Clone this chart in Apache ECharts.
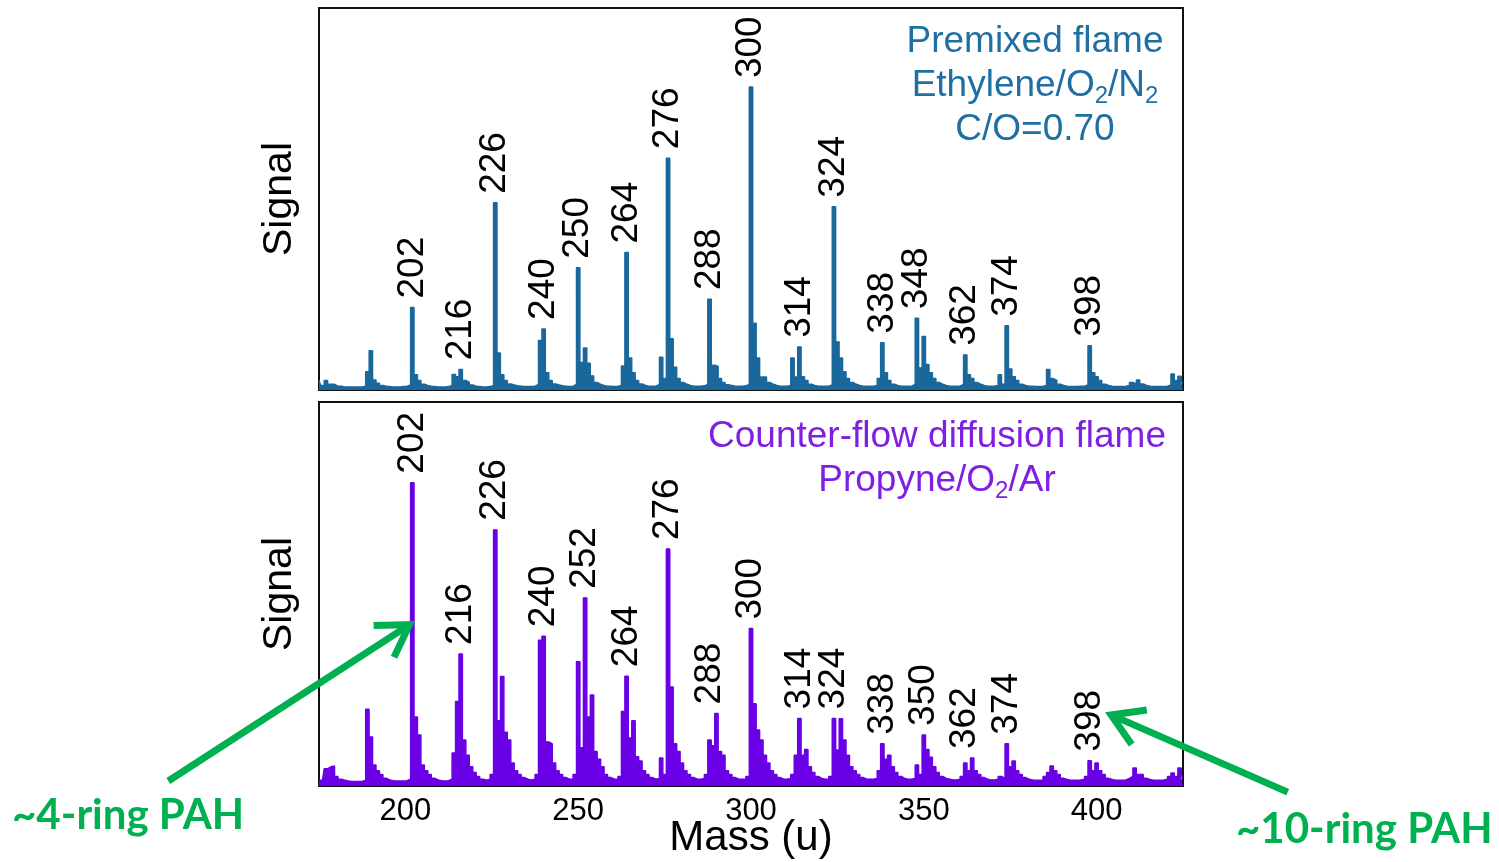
<!DOCTYPE html>
<html><head><meta charset="utf-8">
<script src="https://cdn.jsdelivr.net/npm/echarts@6/dist/echarts.min.js"></script>
<style>html,body{margin:0;padding:0;background:#fff}#c{width:1499px;height:862px}</style>
</head><body><div id="c"></div>
<script>
// ---------------- DATA ----------------
const massStart = 175; // first mass (u); one value per integer mass up to 425
const premixedSignal = [
  2.5,1.2,2.5,1.5,1.5,1.0,1.0,0.8,0.8,0.8,
  0.8,0.8,0.8,1.0,4.8,10.3,2.6,1.8,1.2,1.0,
  0.9,0.8,0.8,0.8,0.9,1.0,1.3,21.6,4.0,2.5,
  1.5,1.2,1.0,0.9,0.8,0.8,0.8,0.9,1.2,4.1,
  3.5,5.4,2.5,2.0,1.3,1.0,0.9,0.8,0.8,0.9,
  1.2,49.0,9.7,4.0,2.5,1.6,1.3,1.1,1.0,0.9,
  0.9,0.9,1.0,1.5,13.0,16.0,4.5,2.5,1.6,1.3,
  1.1,1.0,0.9,1.0,1.5,32.0,7.2,11.0,7.0,3.7,
  2.0,1.5,1.2,1.0,1.0,0.9,1.0,1.2,6.3,36.0,
  8.4,4.5,2.5,1.6,1.2,1.0,1.0,1.0,1.5,8.6,
  3.0,60.7,13.4,6.0,3.0,2.0,1.5,1.2,1.0,1.0,
  1.0,1.1,1.5,23.8,6.5,6.2,3.0,2.0,1.4,1.2,
  1.0,1.0,1.0,1.1,1.5,79.3,17.5,8.4,3.4,3.4,
  2.0,1.5,1.2,1.0,1.0,1.0,1.2,8.4,3.4,11.3,
  3.5,2.5,1.5,1.2,1.0,1.0,1.0,1.0,1.3,48.0,
  12.6,8.4,4.8,3.0,2.0,1.5,1.2,1.0,1.0,1.0,
  1.0,1.2,3.0,12.4,4.5,2.5,1.5,1.2,1.0,1.0,
  1.0,1.0,1.5,18.8,5.8,14.0,6.7,4.5,3.0,2.0,
  1.5,1.2,1.0,1.0,1.0,1.0,1.5,9.2,4.0,3.0,
  2.0,1.5,1.2,1.0,1.0,1.0,1.2,4.0,1.5,16.8,
  5.5,3.5,2.5,1.5,1.2,1.0,1.0,0.9,0.9,1.0,
  1.2,5.4,3.0,2.5,1.5,1.2,1.0,0.9,0.9,0.9,
  1.0,1.0,1.3,11.6,4.5,3.5,2.5,1.5,1.2,1.0,
  0.9,0.9,0.9,1.0,1.2,2.0,1.6,2.6,1.6,1.2,
  1.0,0.9,0.9,0.9,0.9,1.0,1.3,4.2,2.5,3.6,
  2.0
];
const counterflowSignal = [
  1.5,1.5,4.5,5.0,5.2,2.5,1.8,1.5,1.3,1.2,
  1.2,1.2,1.2,1.5,20.0,12.8,5.5,4.0,3.0,2.0,
  1.6,1.4,1.3,1.3,1.3,1.4,1.8,79.0,18.0,13.3,
  5.5,4.0,3.0,2.0,1.6,1.4,1.3,1.4,1.8,8.6,
  22.0,34.4,12.0,8.0,5.0,3.5,2.5,1.8,1.5,1.8,
  3.0,66.7,17.0,28.5,14.0,12.0,6.0,4.0,3.0,2.2,
  1.8,1.6,1.8,3.0,38.0,39.0,11.5,11.0,6.0,4.0,
  3.0,2.2,1.8,1.8,3.0,32.4,10.0,49.0,18.0,23.7,
  9.0,7.0,5.0,3.0,2.2,1.8,1.8,2.5,19.4,28.6,
  12.5,17.0,7.6,6.5,4.0,3.0,2.2,1.8,2.0,7.3,
  3.0,61.7,25.8,11.0,9.0,6.0,4.0,3.0,2.2,1.8,
  1.8,2.0,3.0,12.0,10.5,18.9,9.0,8.0,4.0,3.0,
  2.2,1.8,1.8,1.8,2.5,41.0,21.4,14.6,12.0,8.0,
  6.0,4.0,3.0,2.2,1.8,1.8,2.0,3.0,8.0,17.6,
  8.0,9.5,5.0,3.5,2.5,2.0,1.8,1.8,2.5,17.6,
  9.4,17.5,12.0,8.0,5.0,4.0,3.0,2.2,1.8,1.8,
  1.8,2.0,4.0,11.0,7.0,8.0,5.0,3.5,2.5,2.0,
  1.8,1.8,2.0,5.5,3.0,13.3,9.5,7.5,5.0,3.5,
  2.5,2.0,1.8,1.6,1.6,1.8,2.5,6.0,4.0,7.3,
  4.0,3.0,2.2,1.8,1.6,1.6,1.8,2.5,2.0,11.0,
  5.0,6.5,4.0,3.0,2.2,1.8,1.6,1.5,1.5,1.6,
  2.5,3.5,5.2,4.0,3.0,2.0,1.7,1.5,1.5,1.5,
  1.6,1.8,2.5,6.6,4.0,6.0,4.0,3.0,2.0,1.7,
  1.5,1.5,1.5,1.6,2.0,2.5,4.7,3.0,3.0,2.0,
  1.7,1.5,1.5,1.5,1.6,1.8,2.5,3.4,2.5,4.7,
  2.5
];
const premixedPeakLabels    = ['202','216','226','240','250','264','276','288','300','314','324','338','348','362','374','398'];
const counterflowPeakLabels = ['202','216','226','240','252','264','276','288','300','314','324','338','350','362','374','398'];
const massTicks = [200, 250, 300, 350, 400];
const massRange = [175, 425];
const signalRange = [0, 100];

// ---------------- STYLE ----------------
const FONT = "'Liberation Sans', Arial, sans-serif";
const BLUE = '#1a679c', BLUE_TXT = '#1f6fa3';
const PURPLE = '#6a00e6', PURPLE_TXT = '#7f1fe3';
const GREEN = '#00b050';

function toPairs(arr) { return arr.map((v, i) => [massStart + i, v]); }
function labelPoints(labels, arr) {
  return labels.map(l => {
    const m = +l; let mx = 0;
    for (let k = m - 1; k <= m + 2; k++) { const v = arr[k - massStart]; if (v != null && v > mx) mx = v; }
    return { name: l, value: [m, mx] };
  });
}

const chart = echarts.init(document.getElementById('c'), null, { renderer: 'canvas' });

const grids = [
  { left: 319, top: 8, width: 864, height: 382 },
  { left: 319, top: 402, width: 864, height: 384 }
].map(g => Object.assign(g, { show: true, borderColor: '#111', borderWidth: 2, backgroundColor: 'transparent', containLabel: false, outerBoundsMode: 'none' }));

function xAxis(idx, showLabels) {
  return {
    type: 'value', gridIndex: idx, min: massRange[0], max: massRange[1],
    axisLine: { show: true, onZero: false, lineStyle: { color: '#111', width: 2 } },
    axisTick: { show: false },
    splitLine: { show: false },
    axisLabel: showLabels ? { show: true, customValues: massTicks, fontSize: 31, fontFamily: FONT, color: '#000', margin: 10 } : { show: false },
    name: showLabels ? 'Mass (u)' : '',
    nameLocation: 'middle', nameGap: 31, nameMoveOverlap: false,
    nameTextStyle: { fontSize: 42, fontFamily: FONT, color: '#000', verticalAlign: 'top' }
  };
}
function yAxis(idx) {
  return {
    type: 'value', gridIndex: idx, min: signalRange[0], max: signalRange[1],
    axisLine: { show: true, lineStyle: { color: '#111', width: 2 } },
    axisTick: { show: false }, axisLabel: { show: false }, splitLine: { show: false },
    name: 'Signal', nameLocation: 'middle', nameGap: 19, nameRotate: 90, nameMoveOverlap: false,
    nameTextStyle: { fontSize: 41, fontFamily: FONT, color: '#000', verticalAlign: 'bottom' }
  };
}
function spectrum(idx, arr, color) {
  return {
    type: 'line', xAxisIndex: idx, yAxisIndex: idx, data: toPairs(arr),
    step: 'middle', showSymbol: false, silent: true, animation: false,
    lineStyle: { color, width: 1.4 }, areaStyle: { color, opacity: 1 }, z: 2
  };
}
function peakLabels(idx, labels, arr) {
  return {
    type: 'scatter', xAxisIndex: idx, yAxisIndex: idx, data: labelPoints(labels, arr),
    symbol: 'circle', symbolSize: 0, itemStyle: { color: '#000' }, silent: true, animation: false, z: 5,
    label: {
      show: true, position: 'top', distance: 9, rotate: 90, align: 'left', verticalAlign: 'middle',
      formatter: p => p.name, fontSize: 37, fontFamily: FONT, color: '#000', opacity: 1
    }
  };
}

const noteRich = (c) => ({
  a: { fontSize: 37, fontFamily: FONT, fill: c, lineHeight: 44, verticalAlign: 'middle' },
  s: { fontSize: 24, fontFamily: FONT, fill: c, lineHeight: 16, verticalAlign: 'bottom' }
});

chart.setOption({
  animation: false,
  grid: grids,
  xAxis: [xAxis(0, false), xAxis(1, true)],
  yAxis: [yAxis(0), yAxis(1)],
  series: [
    spectrum(0, premixedSignal, BLUE),
    spectrum(1, counterflowSignal, PURPLE),
    peakLabels(0, premixedPeakLabels, premixedSignal),
    peakLabels(1, counterflowPeakLabels, counterflowSignal)
  ]
});

// annotation arrows in data units of the lower panel: [tail, tip]
const arrows = [
  { tail: [131.4, 1.3], tip: [201.2, 42] },
  { tail: [455.3, -1.6], tip: [404.2, 18.5] }
];
function arrowGraphic(a) {
  const t = chart.convertToPixel({ gridIndex: 1 }, a.tail);
  const h = chart.convertToPixel({ gridIndex: 1 }, a.tip);
  const ang = Math.atan2(h[1] - t[1], h[0] - t[0]);
  const L = 36, spread = 0.55;
  const p1 = [h[0] - L * Math.cos(ang - spread), h[1] - L * Math.sin(ang - spread)];
  const p2 = [h[0] - L * Math.cos(ang + spread), h[1] - L * Math.sin(ang + spread)];
  const back = [h[0] - 3 * Math.cos(ang), h[1] - 3 * Math.sin(ang)];
  return [
    { type: 'line', shape: { x1: t[0], y1: t[1], x2: back[0], y2: back[1] }, style: { stroke: GREEN, lineWidth: 7 }, z: 10 },
    { type: 'polyline', shape: { points: [p1, h, p2] }, style: { stroke: GREEN, lineWidth: 7, fill: null, lineJoin: 'miter' }, z: 10 }
  ];
}

chart.setOption({
  graphic: [
    { type: 'text', x: 1035, y: 20, z: 6,
      style: { text: '{a|Premixed flame}\n{a|Ethylene/O}{s|2}{a|/N}{s|2}\n{a|C/O=0.70}', rich: noteRich(BLUE_TXT), align: 'center', verticalAlign: 'top' } },
    { type: 'text', x: 937, y: 415, z: 6,
      style: { text: '{a|Counter-flow diffusion flame}\n{a|Propyne/O}{s|2}{a|/Ar}', rich: noteRich(PURPLE_TXT), align: 'center', verticalAlign: 'top' } },
    { type: 'text', x: 12, y: 794, z: 10,
      style: { text: '~4-ring PAH', font: "bold 42px Lato, 'Open Sans', sans-serif", fill: GREEN, align: 'left', verticalAlign: 'top' } },
    { type: 'text', x: 1236, y: 808, z: 10,
      style: { text: '~10-ring PAH', font: "bold 42px Lato, 'Open Sans', sans-serif", fill: GREEN, align: 'left', verticalAlign: 'top' } }
  ].concat(arrows.flatMap(arrowGraphic))
});
</script>
</body></html>
